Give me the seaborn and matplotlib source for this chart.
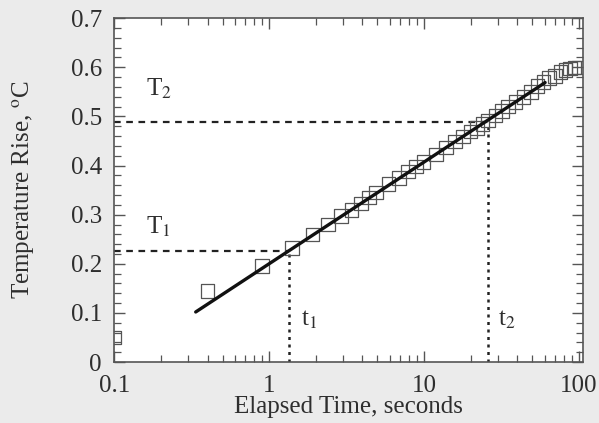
import numpy as np
import pandas as pd
import matplotlib
matplotlib.use('Agg')
import matplotlib.pyplot as plt
import seaborn as sns
from matplotlib.ticker import LogLocator, MultipleLocator, FixedLocator, FixedFormatter

time_s = [0.1, 0.4, 0.9, 1.4, 1.9, 2.4, 2.9, 3.4, 3.9, 4.4, 4.9, 5.9, 6.9, 7.9,
          8.9, 9.9, 11.9, 13.9, 15.9, 17.9, 19.9, 21.9, 23.9, 25.9, 28.9, 31.9,
          34.9, 38.9, 43.9, 48.9, 53.9, 58.9, 63.9, 69.9, 75.9, 81.9, 87.9,
          93.9, 99.9]
temp_rise = [0.05, 0.145, 0.196, 0.232, 0.26, 0.28, 0.297, 0.31, 0.323, 0.335,
             0.345, 0.362, 0.375, 0.388, 0.398, 0.407, 0.423, 0.437, 0.449,
             0.459, 0.469, 0.477, 0.485, 0.492, 0.502, 0.511, 0.52, 0.529,
             0.54, 0.55, 0.562, 0.57, 0.578, 0.582, 0.59, 0.594, 0.598, 0.6,
             0.6]

# straight-line fit end points
fit_time = [0.335, 60.5]
fit_temp = [0.102, 0.569]

# picked times / temperatures
t_pick = [1.34, 25.7]
T_pick = [0.226, 0.488]

x_ticks = [0.1, 1, 10, 100]
x_labels = ['0.1', '1', '10', '100']
y_ticks = [0, 0.1, 0.2, 0.3, 0.4, 0.5, 0.6, 0.7]
y_labels = ['0', '0.1', '0.2', '0.3', '0.4', '0.5', '0.6', '0.7']

sns.set_style('ticks')
plt.rcParams['font.family'] = ['Liberation Serif', 'DejaVu Serif']
plt.rcParams['mathtext.fontset'] = 'stix'

ink = '#2e2e2e'
fig = plt.figure(figsize=(5.99, 4.23), dpi=100, facecolor='#ebebeb')
ax = fig.add_axes([0.191, 0.144, 0.782, 0.813])
ax.set_facecolor('white')

data = pd.DataFrame({'t': time_s, 'T': temp_rise})
fit = pd.DataFrame({'t': fit_time, 'T': fit_temp})

sns.scatterplot(data=data, x='t', y='T', marker='s', s=95, facecolor='none',
                edgecolor='#555555', linewidth=0.9, ax=ax, zorder=3)
sns.lineplot(data=fit, x='t', y='T', color='#111111', linewidth=2.4, ax=ax, zorder=4)

# guide lines
for t, T in zip(t_pick, T_pick):
    ax.plot([0.1, t], [T, T], color='#222222', lw=1.6, ls=(0, (3, 2.5)), zorder=2)
    ax.plot([t, t], [0, T], color='#222222', lw=1.8, ls=(0, (1.2, 1.8)), zorder=2)

ax.text(0.16, 0.275, r'T$_1$', fontsize=18, color=ink, va='center')
ax.text(0.16, 0.557, r'T$_2$', fontsize=18, color=ink, va='center')
ax.text(1.6, 0.085, r't$_1$', fontsize=18, color=ink, va='center')
ax.text(30.0, 0.085, r't$_2$', fontsize=18, color=ink, va='center')

ax.set_xscale('log')
ax.set_xlim(0.1, 106)
ax.set_ylim(0, 0.7)
ax.xaxis.set_major_locator(FixedLocator(x_ticks))
ax.xaxis.set_major_formatter(FixedFormatter(x_labels))
ax.xaxis.set_minor_locator(LogLocator(base=10, subs=np.arange(2, 10)))
ax.yaxis.set_major_locator(FixedLocator(y_ticks))
ax.yaxis.set_major_formatter(FixedFormatter(y_labels))
ax.yaxis.set_minor_locator(MultipleLocator(0.02))

ax.tick_params(which='both', direction='in', top=True, right=True,
               color='#555555', labelcolor=ink, labelsize=18)
ax.tick_params(which='major', length=8, width=1.0, pad=9)
ax.tick_params(which='minor', length=5, width=0.9)
for s in ax.spines.values():
    s.set_color('#555555')
    s.set_linewidth(1.2)

ax.set_xlabel('Elapsed Time, seconds', fontsize=18, color=ink)
ax.set_ylabel('Temperature Rise, $^{\\mathrm{o}}$C', fontsize=18, color=ink)
ax.xaxis.set_label_coords(0.5, -0.1)
ax.yaxis.set_label_coords(-0.165, 0.5)

fig.savefig('out.png', dpi=100, facecolor=fig.get_facecolor())
